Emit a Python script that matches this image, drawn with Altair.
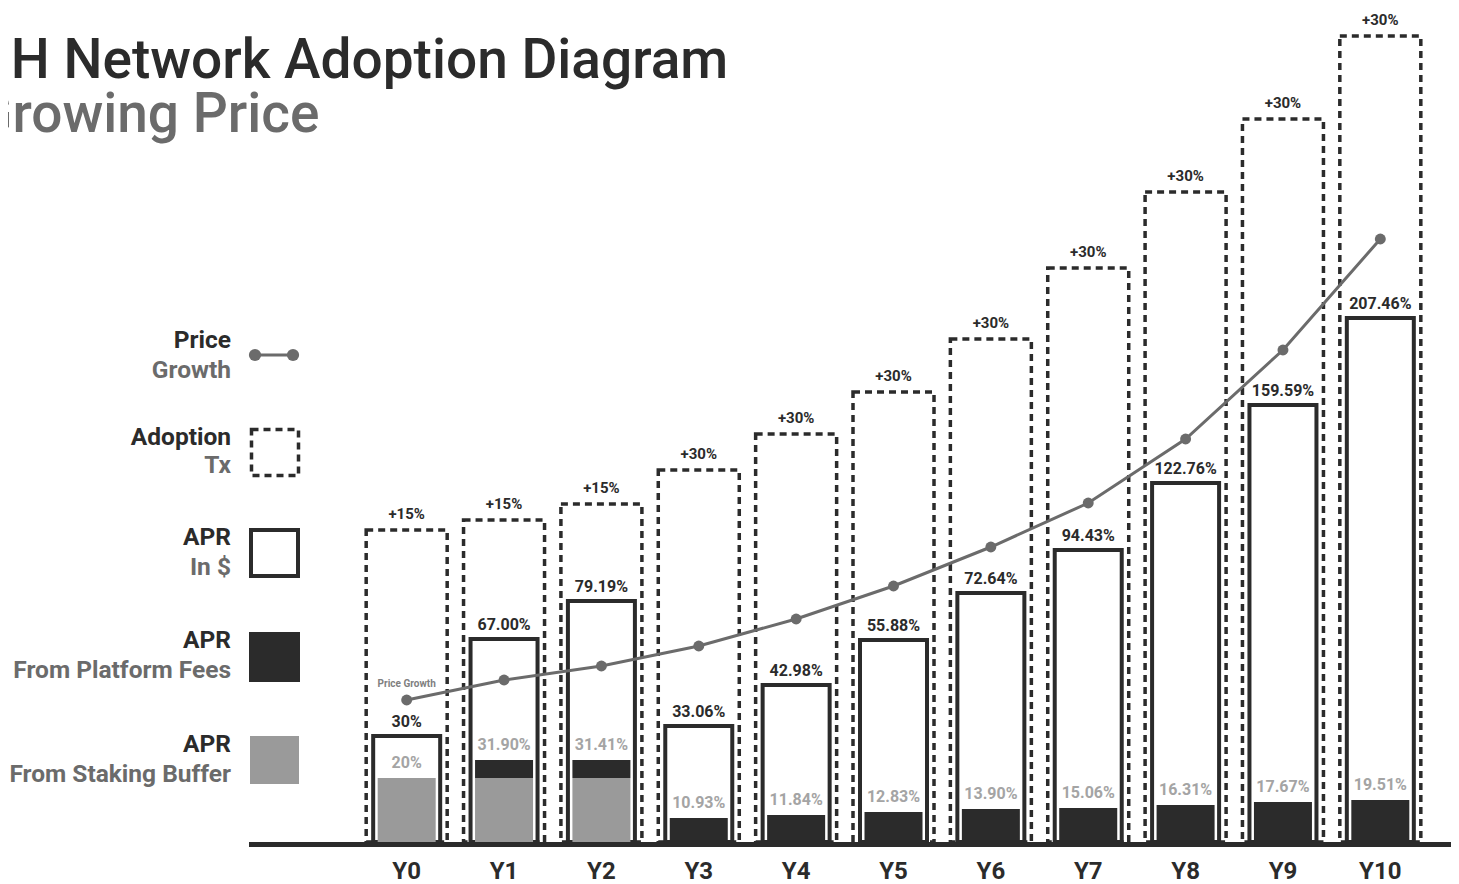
import altair as alt
import pandas as pd

# ---- data (heights are visual heights of the marks) ----
years = ["Y0", "Y1", "Y2", "Y3", "Y4", "Y5", "Y6", "Y7", "Y8", "Y9", "Y10"]
adoption_growth = ["+15%", "+15%", "+15%", "+30%", "+30%", "+30%", "+30%", "+30%", "+30%", "+30%", "+30%"]
adoption_height = [312, 322, 338, 372, 408, 450, 503, 574, 650, 723, 806]
apr_usd_label = ["30%", "67.00%", "79.19%", "33.06%", "42.98%", "55.88%", "72.64%", "94.43%", "122.76%", "159.59%", "207.46%"]
apr_usd_height = [106, 203, 241, 116, 157, 202, 249, 292, 359, 437, 524]
apr_token_label = ["20%", "31.90%", "31.41%", "10.93%", "11.84%", "12.83%", "13.90%", "15.06%", "16.31%", "17.67%", "19.51%"]
staking_height = [64, 64, 64, 0, 0, 0, 0, 0, 0, 0, 0]
fees_height = [0, 18, 18, 24, 27, 30, 33, 34, 37, 40, 42]
price_height = [142, 162, 176, 196, 223, 256, 295, 339, 403, 492, 603]

DARK = "#2b2b2b"
MID = "#6b6b6b"
LIGHT = "#9a9a9a"
LABEL_LIGHT = "#a4a4a4"
FONT = "Roboto"

df = pd.DataFrame({
    "year": years,
    "growth": adoption_growth,
    "adoption": adoption_height,
    "usd_label": apr_usd_label,
    "usd": apr_usd_height,
    "token_label": apr_token_label,
    "staking": staking_height,
    "fees": fees_height,
    "price": price_height,
})
df["inner_top"] = df["staking"] + df["fees"]

x = alt.X("year:N", sort=years,
          scale=alt.Scale(domain=years, range=[350, 1421], paddingInner=0, paddingOuter=0),
          axis=alt.Axis(title=None, domain=False, ticks=False, grid=False,
                        labelFont=FONT, labelFontSize=24, labelFontWeight="bold",
                        labelColor=DARK, labelPadding=17, labelAngle=0))
yscale = alt.Scale(domain=[0, 834], nice=False, zero=True)


def Y(field):
    return alt.Y(f"{field}:Q", scale=yscale, axis=None)


base = alt.Chart(df)

adoption = base.mark_bar(width=81, fillOpacity=0, stroke=DARK, strokeWidth=3.5,
                         strokeDash=[7, 5]).encode(x=x, y=Y("adoption"))
adoption_txt = base.mark_text(dy=-16, font=FONT, fontSize=15, fontWeight="bold",
                              color=DARK).encode(x=x, y=Y("adoption"), text="growth:N")

usd = base.mark_bar(width=67, fill="white", stroke=DARK, strokeWidth=4).encode(x=x, y=Y("usd"))
usd_txt = base.mark_text(dy=-14, font=FONT, fontSize=16, fontWeight="bold",
                         color=DARK).encode(x=x, y=Y("usd"), text="usd_label:N")

staking = base.transform_filter("datum.staking > 0").mark_bar(width=58, color=LIGHT).encode(
    x=x, y=Y("staking"), y2=alt.Y2("zero:Q")).transform_calculate(zero="0")
fees = base.transform_filter("datum.fees > 0").mark_bar(width=58, color=DARK).encode(
    x=x, y=Y("inner_top"), y2=alt.Y2("staking:Q"))
token_txt = base.mark_text(dy=-15, font=FONT, fontSize=16, fontWeight="bold",
                           color=LABEL_LIGHT).encode(x=x, y=Y("inner_top"), text="token_label:N")

baseline = alt.Chart(pd.DataFrame({"a": [0]})).mark_rule(color=DARK, strokeWidth=5).encode(
    x=alt.value(241), x2=alt.value(1443), y=alt.value(836.5))

price_line = base.mark_line(color=MID, strokeWidth=3).encode(x=x, y=Y("price"))
price_pts = base.mark_circle(size=120, color=MID, opacity=1).encode(x=x, y=Y("price"))
price_lbl = alt.Chart(pd.DataFrame({"year": ["Y0"], "price": [price_height[0]], "t": ["Price Growth"]})).mark_text(
    dy=-16, font=FONT, fontSize=10, fontWeight="bold", color="#808080").encode(
    x=x, y=Y("price"), text="t:N")

one = pd.DataFrame({"a": [0]})


def txt(s, xp, yp, size, color, weight="bold", align="right"):
    return alt.Chart(one).mark_text(text=s, font=FONT, fontSize=size, fontWeight=weight,
                                    color=color, align=align, baseline="alphabetic").encode(
        x=alt.value(xp), y=alt.value(yp))


# titles (page coords minus 8)
title = txt("BH Network Adoption Diagram", -32, 70, 55, DARK, weight=500, align="left")
subtitle = txt("Growing Price", -33, 124, 55, MID, weight=500, align="left")

# legend
LX = 223
LS = 24.5
leg_texts = [
    txt("Price", LX, 340, LS, DARK), txt("Growth", LX, 370, LS, MID),
    txt("Adoption", LX, 437, LS, DARK), txt("Tx", LX, 465, LS, MID),
    txt("APR", LX, 537, LS, DARK), txt("In $", LX, 567, LS, MID),
    txt("APR", LX, 640, LS, DARK), txt("From Platform Fees", LX, 670, LS, MID),
    txt("APR", LX, 744, LS, DARK), txt("From Staking Buffer", LX, 774, LS, MID),
]

leg_line = alt.Chart(one).mark_rule(color=MID, strokeWidth=3).encode(
    x=alt.value(247), x2=alt.value(285), y=alt.value(347))
leg_dot1 = alt.Chart(one).mark_circle(size=150, color=MID, opacity=1).encode(x=alt.value(247), y=alt.value(347))
leg_dot2 = alt.Chart(one).mark_circle(size=150, color=MID, opacity=1).encode(x=alt.value(285), y=alt.value(347))
leg_dash = alt.Chart(one).mark_rect(fillOpacity=0, stroke=DARK, strokeWidth=3.5, strokeDash=[7, 5]).encode(
    x=alt.value(243.5), x2=alt.value(290.5), y=alt.value(421.5), y2=alt.value(467.5))
leg_usd = alt.Chart(one).mark_rect(fill="white", stroke=DARK, strokeWidth=4).encode(
    x=alt.value(243), x2=alt.value(290), y=alt.value(522), y2=alt.value(568))
leg_fee = alt.Chart(one).mark_rect(color=DARK).encode(
    x=alt.value(241), x2=alt.value(292), y=alt.value(624), y2=alt.value(674))
leg_stk = alt.Chart(one).mark_rect(color=LIGHT).encode(
    x=alt.value(242), x2=alt.value(291), y=alt.value(728), y2=alt.value(776))

chart = alt.layer(
    adoption, usd, staking, fees, baseline,
    adoption_txt, usd_txt, token_txt,
    price_line, price_pts, price_lbl,
    title, subtitle, *leg_texts,
    leg_line, leg_dot1, leg_dot2, leg_dash, leg_usd, leg_fee, leg_stk,
).properties(
    width=1443, height=834,
    autosize=alt.AutoSizeParams(type="none"),
    padding={"left": 0, "top": 0, "right": 0, "bottom": 42},
    background="white",
).configure_view(stroke=None)

chart.save("out.html", embed_options={"renderer": "svg", "actions": False})
